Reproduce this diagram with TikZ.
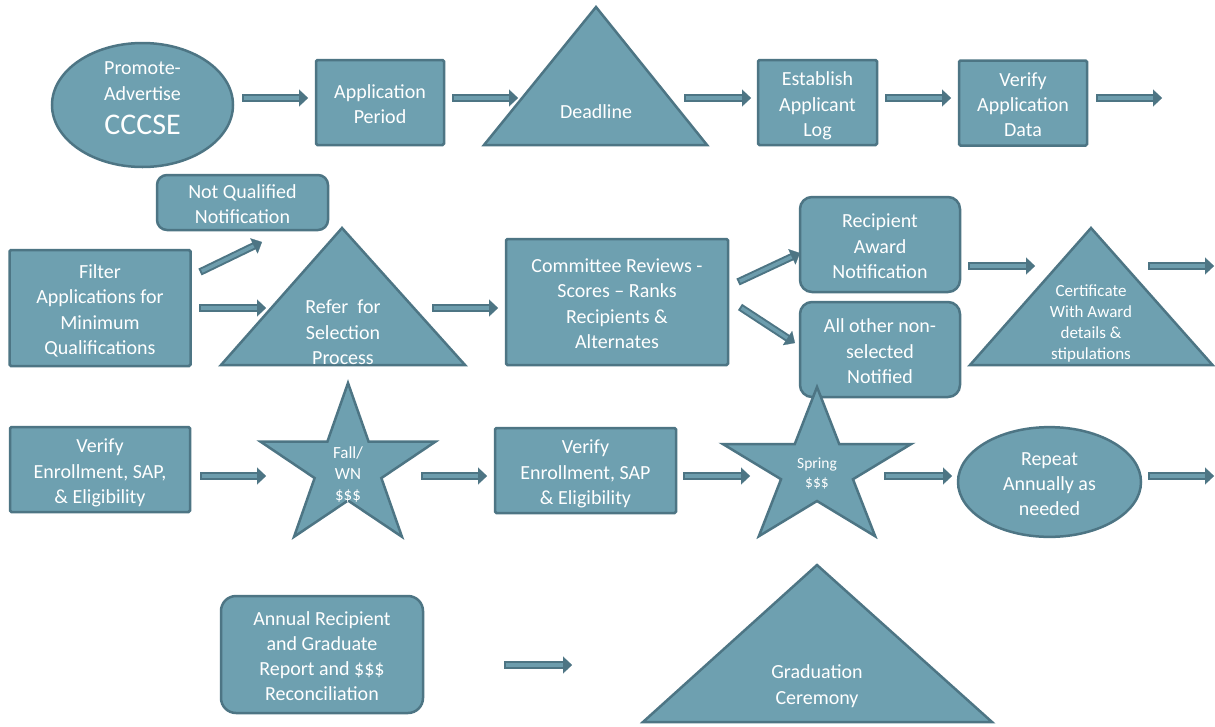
\documentclass[tikz,border=0pt]{standalone}
\usepackage{fontspec}
\setmainfont{Carlito}
\usetikzlibrary{calc,shapes.geometric,arrows.meta}
\definecolor{shfill}{HTML}{6EA0B0}
\definecolor{shline}{HTML}{4D7584}
\definecolor{arin}{HTML}{6D9DAD}
\newcommand{\ts}{\rule{0pt}{0.9em}}
\newcommand{\tb}{\rule{0pt}{1.1em}}
\newcommand{\te}{\rule[-0.25em]{0pt}{0.25em}}
\tikzset{
 shp/.style={draw=shline, fill=shfill, line width=2.5pt},
 box/.style={shp, rectangle, rounded corners=1.5pt, inner sep=0pt, text=white, font=\fontsize{20}{25.3}\selectfont, align=center},
 rbox/.style={box, rounded corners=12pt},
 ell/.style={shp, ellipse, inner sep=0pt},
 txt/.style={text=white, font=\fontsize{20}{25.3}\selectfont, align=center, inner sep=0pt},
 smalltxt/.style={txt, font=\fontsize{17}{21}\selectfont},
 shaftout/.style={draw=shline, line width=7.5pt},
 shaftin/.style={draw=arin, line width=3.5pt},
 headst/.style={draw=shline, line width=0.2pt, -{Triangle[length=9pt,width=17pt]}}
}
\newcommand{\barrow}[2]{%
 \draw[shaftout] (#1) -- ($(#2)!8pt!(#1)$);
 \draw[shaftin] ($(#1)!2pt!(#2)$) -- ($(#2)!8pt!(#1)$);
 \draw[headst] ($(#2)!9pt!(#1)$) -- (#2);
}
\begin{document}
\begin{tikzpicture}[x=1pt,y=-1pt]
\useasboundingbox (0,0) rectangle (1215,726);
\fill[white] (0,0) rectangle (1215,726);

% ---------- Row 1 ----------
\node[ell, minimum width=181pt, minimum height=124pt] (promote) at (142.5,105) {};
\node[txt, anchor=base] (promoteA) at (142.5,74) {Promote-};
\node[txt, anchor=base] (promoteB) at (142.5,100) {Advertise};
\node[txt, anchor=base, font=\fontsize{30}{34}\selectfont] (promoteC) at (142.5,134) {CCCSE};

\node[box, minimum width=128pt, minimum height=85pt] (app) at (380,102.5) {\tb Application\\Period\te};

\draw[shp] (484,145) -- (596,7) -- (707,145) -- cycle;
\node[txt] (deadline) at (596,112) {\ts Deadline\te};

\node[box, minimum width=119pt, minimum height=85pt] (estab) at (817.5,102.5) {\tb Establish\\Applicant\\Log\te};
\node[box, minimum width=128pt, minimum height=85pt] (verifyA) at (1023,103) {\tb Verify\\Application\\Data\te};

\coordinate (a1s) at (242,98);  \coordinate (a1e) at (308,98);
\coordinate (a2s) at (452,98);  \coordinate (a2e) at (518,98);
\coordinate (a3s) at (684,98);  \coordinate (a3e) at (751,98);
\coordinate (a4s) at (885,98);  \coordinate (a4e) at (951,98);
\coordinate (a5s) at (1096,98); \coordinate (a5e) at (1162,98);
\barrow{a1s}{a1e}
\barrow{a2s}{a2e}
\barrow{a3s}{a3e}
\barrow{a4s}{a4e}
\barrow{a5s}{a5e}

% ---------- Row 2 ----------
\node[rbox, rounded corners=10pt, minimum width=171pt, minimum height=55pt] (notq) at (242.5,202.5) {\tb Not Qualified\\Notification\te};
\node[box, minimum width=181pt, minimum height=116pt] (filter) at (100,308) {\tb Filter\\Applications for\\Minimum\\Qualifications\te};

\draw[shp] (221,365) -- (342,228) -- (465,365) -- cycle;
\node[txt] (refer) at (343,332.5) {\ts Refer\ \ for\\Selection\\Process\te};

\node[box, minimum width=222pt, minimum height=126pt] (committee) at (617,302) {\tb Committee Reviews -\\Scores -- Ranks\\Recipients \&\\Alternates\te};

\node[rbox, minimum width=160pt, minimum height=95pt] (recip) at (880,244.5) {\tb Recipient\\Award\\Notification\te};
\node[rbox, minimum width=160pt, minimum height=95pt] (allother) at (880,349.5) {\tb All other non-\\selected\\Notified\te};

\draw[shp] (970,365) -- (1091,228) -- (1212.5,365) -- cycle;
\node[smalltxt] (cert) at (1091,322) {\ts Certificate\\With Award\\details \&\\stipulations\te};

\coordinate (b1s) at (200,272);  \coordinate (b1e) at (262,242);
\coordinate (b2s) at (199,308);  \coordinate (b2e) at (266,308);
\coordinate (b3s) at (432,308);  \coordinate (b3e) at (498,308);
\coordinate (b4s) at (738,282);  \coordinate (b4e) at (800,253);
\coordinate (b5s) at (740,307);  \coordinate (b5e) at (795,343);
\coordinate (b6s) at (968,266);  \coordinate (b6e) at (1035,266);
\coordinate (b7s) at (1148,266); \coordinate (b7e) at (1214,266);
\barrow{b1s}{b1e}
\barrow{b2s}{b2e}
\barrow{b3s}{b3e}
\barrow{b4s}{b4e}
\barrow{b5s}{b5e}
\barrow{b6s}{b6e}
\barrow{b7s}{b7e}

% ---------- Row 3 ----------
\node[box, minimum width=180pt, minimum height=85pt] (verE1) at (100,469.5) {\tb Verify\\Enrollment, SAP,\\\& Eligibility\te};

\draw[shp, shift={(348,468)}, xscale=1.08]
  (270:85) -- (306:32.5) -- (342:85) -- (18:32.5) -- (54:85) -- (90:32.5)
  -- (126:85) -- (162:32.5) -- (198:85) -- (234:32.5) -- cycle;
\node[smalltxt] (fall) at (348,474) {\ts Fall/\\WN\\\$\$\$\te};

\node[box, minimum width=181pt, minimum height=85pt] (verE2) at (585.5,470.5) {\tb Verify\\Enrollment, SAP\\\& Eligibility\te};

\draw[shp, shift={(817,469.5)}, xscale=1.2]
  (270:82.5) -- (306:31.5) -- (342:82.5) -- (18:31.5) -- (54:82.5) -- (90:31.5)
  -- (126:82.5) -- (162:31.5) -- (198:82.5) -- (234:31.5) -- cycle;
\node[txt, font=\fontsize{15.5}{19}\selectfont] (spring) at (817,472.5) {\ts Spring\\\$\$\$\te};

\node[ell, minimum width=183pt, minimum height=106pt, text=white, font=\fontsize{20}{25.3}\selectfont, align=center] (repeat) at (1049.5,482) {\tb Repeat\\Annually as\\needed\te};

\coordinate (c1s) at (200,476);  \coordinate (c1e) at (266,476);
\coordinate (c2s) at (421,476);  \coordinate (c2e) at (487,476);
\coordinate (c3s) at (683,476);  \coordinate (c3e) at (750,476);
\coordinate (c4s) at (884,476);  \coordinate (c4e) at (952,476);
\coordinate (c5s) at (1148,476); \coordinate (c5e) at (1214,476);
\barrow{c1s}{c1e}
\barrow{c2s}{c2e}
\barrow{c3s}{c3e}
\barrow{c4s}{c4e}
\barrow{c5s}{c5e}

% ---------- Row 4 ----------
\node[rbox, rounded corners=15pt, minimum width=202pt, minimum height=117pt] (annual) at (322,654.5) {\tb Annual Recipient\\and Graduate\\Report and \$\$\$\\Reconciliation\te};

\draw[shp] (643,722) -- (817,565) -- (992,722) -- cycle;
\node[txt] (grad) at (817,685) {\ts Graduation\\Ceremony\te};

\coordinate (d1s) at (504,665); \coordinate (d1e) at (572,665);
\barrow{d1s}{d1e}
\end{tikzpicture}
\end{document}
